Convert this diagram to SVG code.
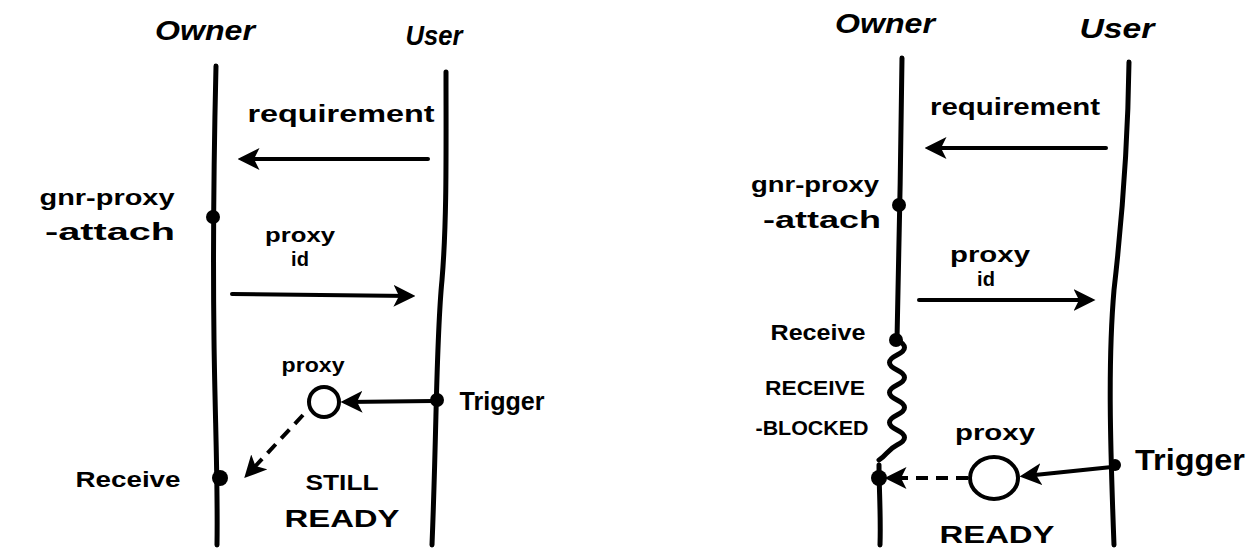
<svg xmlns="http://www.w3.org/2000/svg" width="1250" height="549" viewBox="0 0 1250 549">
<style>
.t{font-family:"Liberation Sans",Arial,sans-serif;font-weight:bold;fill:#000}
.h{font-style:italic;font-size:28px}
.life{fill:none;stroke:#000;stroke-width:5;stroke-linecap:round}
.arr{fill:none;stroke:#000;stroke-width:4;stroke-linecap:round}
.dash{fill:none;stroke:#000;stroke-width:4;stroke-dasharray:12 8}
.dot{fill:#000}
.ring{fill:#fff;stroke:#000;stroke-width:4}
</style>
<defs>
<marker id="ah" viewBox="0 0 12 12" refX="9" refY="6" markerWidth="5.5" markerHeight="5.5" orient="auto" markerUnits="strokeWidth">
<path d="M0,0 L12,6 L0,12 L3,6 Z" fill="#000"/>
</marker>
</defs>
<rect width="1250" height="549" fill="#fff"/>

<!-- LEFT PANEL -->
<g id="owner-left">
<text class="t h" x="205" y="40" text-anchor="middle" textLength="100" lengthAdjust="spacingAndGlyphs">Owner</text>
<path class="life" d="M216,66 C214,150 213,260 214,340 C215,420 218,480 217,545"/>
</g>
<g id="user-left">
<text class="t h" x="434" y="45" text-anchor="middle" textLength="57" lengthAdjust="spacingAndGlyphs">User</text>
<path class="life" d="M446,72 C446,150 447,220 442,280 C436,340 437,420 432,545"/>
</g>
<g id="gnr-proxy-attach-left">
<circle class="dot" cx="213" cy="217" r="7"/>
<text class="t" x="107" y="205" font-size="22" text-anchor="middle" textLength="135" lengthAdjust="spacingAndGlyphs">gnr-proxy</text>
<text class="t" x="110" y="240" font-size="24" text-anchor="middle" textLength="130" lengthAdjust="spacingAndGlyphs">-attach</text>
</g>
<g id="receive-left">
<circle class="dot" cx="220" cy="478" r="8"/>
<text class="t" x="128" y="487" font-size="22" text-anchor="middle" textLength="105" lengthAdjust="spacingAndGlyphs">Receive</text>
</g>
<g id="proxy-left">
<circle class="ring" cx="324" cy="402" r="15"/>
<text class="t" x="313" y="372" font-size="20" text-anchor="middle" textLength="63" lengthAdjust="spacingAndGlyphs">proxy</text>
<text class="t" x="342" y="490" font-size="22" text-anchor="middle" textLength="73" lengthAdjust="spacingAndGlyphs">STILL</text>
<text class="t" x="342" y="527" font-size="24" text-anchor="middle" textLength="115" lengthAdjust="spacingAndGlyphs">READY</text>
</g>
<g id="trigger-left">
<circle class="dot" cx="437" cy="400" r="7"/>
<text class="t" x="502" y="410" font-size="26" font-weight="normal" text-anchor="middle" textLength="85" lengthAdjust="spacingAndGlyphs">Trigger</text>
</g>

<!-- RIGHT PANEL -->
<g id="owner-right">
<text class="t h" x="885" y="33" text-anchor="middle" textLength="100" lengthAdjust="spacingAndGlyphs">Owner</text>
<path class="life" d="M902,58 C901,150 899,250 897,340"/>
<path class="life" d="M897,340 c10,5 10,10 0,15 c-10,5 -10,10 0,15 c10,5 10,10 0,15 c-10,5 -10,10 0,15 c10,5 10,10 0,15 c-10,5 -10,10 0,15 c10,5 10,10 0,15 c-10,5 -10,10 -18,15"/>
<path class="life" d="M879,465 C879,490 881,515 880,545"/>
</g>
<g id="user-right">
<text class="t h" x="1117" y="38" text-anchor="middle" textLength="75" lengthAdjust="spacingAndGlyphs">User</text>
<path class="life" d="M1129,62 C1128,140 1122,220 1114,290 C1108,360 1110,440 1114,545"/>
</g>
<g id="gnr-proxy-attach-right">
<circle class="dot" cx="899" cy="205" r="7"/>
<text class="t" x="815" y="192" font-size="22" text-anchor="middle" textLength="128" lengthAdjust="spacingAndGlyphs">gnr-proxy</text>
<text class="t" x="822" y="228" font-size="24" text-anchor="middle" textLength="118" lengthAdjust="spacingAndGlyphs">-attach</text>
</g>
<g id="receive-right">
<circle class="dot" cx="896" cy="340" r="7"/>
<text class="t" x="818" y="340" font-size="22" text-anchor="middle" textLength="95" lengthAdjust="spacingAndGlyphs">Receive</text>
<text class="t" x="815" y="395" font-size="20" text-anchor="middle" textLength="100" lengthAdjust="spacingAndGlyphs">RECEIVE</text>
<text class="t" x="812" y="435" font-size="20" text-anchor="middle" textLength="113" lengthAdjust="spacingAndGlyphs">-BLOCKED</text>
<circle class="dot" cx="879" cy="478" r="8"/>
</g>
<g id="proxy-right">
<ellipse class="ring" cx="994" cy="478" rx="24" ry="21"/>
<text class="t" x="995" y="440" font-size="22" text-anchor="middle" textLength="80" lengthAdjust="spacingAndGlyphs">proxy</text>
<text class="t" x="997" y="543" font-size="24" text-anchor="middle" textLength="115" lengthAdjust="spacingAndGlyphs">READY</text>
</g>
<g id="trigger-right">
<circle class="dot" cx="1115" cy="465" r="6"/>
<text class="t" x="1190" y="470" font-size="30" font-weight="normal" text-anchor="middle" textLength="110" lengthAdjust="spacingAndGlyphs">Trigger</text>
</g>

<!-- CONNECTORS -->
<g id="connectors">
<text class="t" x="341" y="122" font-size="24" text-anchor="middle" textLength="187" lengthAdjust="spacingAndGlyphs">requirement</text>
<path class="arr" d="M428,159 L243,159" marker-end="url(#ah)"/>
<text class="t" x="300" y="242" font-size="20" text-anchor="middle" textLength="70" lengthAdjust="spacingAndGlyphs">proxy</text>
<text class="t" x="300" y="266" font-size="20" text-anchor="middle">id</text>
<path class="arr" d="M232,294 L410,296" marker-end="url(#ah)"/>
<path class="arr" d="M433,401 L346,402" marker-end="url(#ah)"/>
<path class="dash" d="M303,415 L248,474" marker-end="url(#ah)"/>

<text class="t" x="1015" y="115" font-size="24" text-anchor="middle" textLength="170" lengthAdjust="spacingAndGlyphs">requirement</text>
<path class="arr" d="M1106,148 L930,148" marker-end="url(#ah)"/>
<text class="t" x="990" y="262" font-size="22" text-anchor="middle" textLength="80" lengthAdjust="spacingAndGlyphs">proxy</text>
<text class="t" x="986" y="286" font-size="20" text-anchor="middle">id</text>
<path class="arr" d="M919,300 L1090,300" marker-end="url(#ah)"/>
<path class="arr" d="M1112,467 L1025,476" marker-end="url(#ah)"/>
<path class="dash" d="M968,478 L890,478" marker-end="url(#ah)"/>
</g>
</svg>
